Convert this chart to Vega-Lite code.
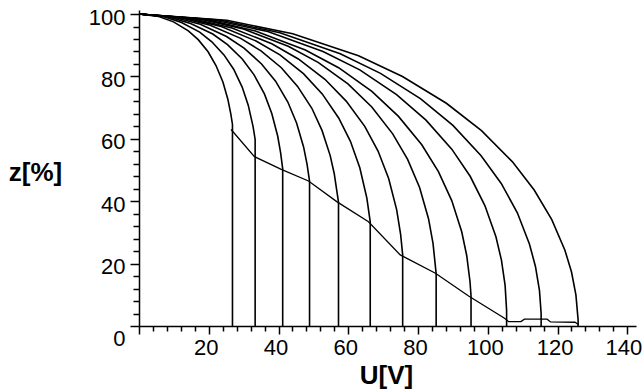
{
  "$schema": "https://vega.github.io/schema/vega-lite/v6.json",
  "width": 497,
  "height": 316,
  "autosize": {"type": "none"},
  "padding": {"left": 139, "top": 10, "right": 8, "bottom": 63},
  "background": "white",
  "config": {
    "view": {"stroke": null},
    "axis": {
      "grid": false,
      "domainColor": "black",
      "tickColor": "black",
      "labelColor": "black",
      "titleColor": "black",
      "labelFont": "Liberation Sans",
      "labelFontSize": 22,
      "titleFont": "Liberation Sans",
      "titleFontSize": 26,
      "titleFontWeight": "bold",
      "domainWidth": 1.5,
      "tickWidth": 1.5
    }
  },
  "datasets": {
    "curves": [
      {"c":1,"i":0,"U":0,"z":100},{"c":1,"i":1,"U":5.66,"z":99.2},{"c":1,"i":2,"U":9.9,"z":97.5},{"c":1,"i":3,"U":14.15,"z":94.6},{"c":1,"i":4,"U":16.98,"z":91.8},{"c":1,"i":5,"U":19.81,"z":87.9},{"c":1,"i":6,"U":22.07,"z":83.5},{"c":1,"i":7,"U":24.06,"z":78.2},{"c":1,"i":8,"U":25.47,"z":72.7},{"c":1,"i":9,"U":26.32,"z":68.0},{"c":1,"i":10,"U":26.8,"z":64.6},{"c":1,"i":11,"U":26.8,"z":0},
      {"c":2,"i":0,"U":0,"z":100},{"c":2,"i":1,"U":6.96,"z":99.2},{"c":2,"i":2,"U":12.18,"z":97.3},{"c":2,"i":3,"U":17.4,"z":94.2},{"c":2,"i":4,"U":20.88,"z":91.1},{"c":2,"i":5,"U":24.36,"z":86.9},{"c":2,"i":6,"U":27.14,"z":82.3},{"c":2,"i":7,"U":29.58,"z":76.6},{"c":2,"i":8,"U":31.32,"z":70.8},{"c":2,"i":9,"U":32.71,"z":63.9},{"c":2,"i":10,"U":33.3,"z":59.8},{"c":2,"i":11,"U":33.3,"z":0},
      {"c":3,"i":0,"U":0,"z":100},{"c":3,"i":1,"U":8.46,"z":99.1},{"c":3,"i":2,"U":14.8,"z":97.0},{"c":3,"i":3,"U":21.15,"z":93.6},{"c":3,"i":4,"U":25.38,"z":90.2},{"c":3,"i":5,"U":29.61,"z":85.6},{"c":3,"i":6,"U":32.99,"z":80.5},{"c":3,"i":7,"U":35.96,"z":74.4},{"c":3,"i":8,"U":38.07,"z":68.1},{"c":3,"i":9,"U":39.76,"z":60.9},{"c":3,"i":10,"U":40.61,"z":55.5},{"c":3,"i":11,"U":41.2,"z":50.4},{"c":3,"i":12,"U":41.2,"z":0},
      {"c":4,"i":0,"U":0,"z":100},{"c":4,"i":1,"U":10.04,"z":99.0},{"c":4,"i":2,"U":17.57,"z":96.7},{"c":4,"i":3,"U":25.1,"z":92.8},{"c":4,"i":4,"U":30.12,"z":89.1},{"c":4,"i":5,"U":35.14,"z":84.0},{"c":4,"i":6,"U":39.16,"z":78.5},{"c":4,"i":7,"U":42.67,"z":71.8},{"c":4,"i":8,"U":45.18,"z":65.1},{"c":4,"i":9,"U":47.19,"z":57.4},{"c":4,"i":10,"U":48.19,"z":51.8},{"c":4,"i":11,"U":48.9,"z":46.4},{"c":4,"i":12,"U":48.9,"z":0},
      {"c":5,"i":0,"U":0,"z":100},{"c":5,"i":1,"U":11.66,"z":98.9},{"c":5,"i":2,"U":20.41,"z":96.4},{"c":5,"i":3,"U":29.15,"z":92.2},{"c":5,"i":4,"U":34.98,"z":88.2},{"c":5,"i":5,"U":40.81,"z":82.8},{"c":5,"i":6,"U":45.47,"z":76.8},{"c":5,"i":7,"U":49.56,"z":69.8},{"c":5,"i":8,"U":52.47,"z":62.7},{"c":5,"i":9,"U":54.8,"z":54.7},{"c":5,"i":10,"U":55.97,"z":48.9},{"c":5,"i":11,"U":57.2,"z":39.7},{"c":5,"i":12,"U":57.2,"z":0},
      {"c":6,"i":0,"U":0,"z":100},{"c":6,"i":1,"U":13.47,"z":98.7},{"c":6,"i":2,"U":23.57,"z":96.0},{"c":6,"i":3,"U":33.68,"z":91.3},{"c":6,"i":4,"U":40.41,"z":86.9},{"c":6,"i":5,"U":47.15,"z":80.9},{"c":6,"i":6,"U":52.53,"z":74.4},{"c":6,"i":7,"U":57.25,"z":66.7},{"c":6,"i":8,"U":60.62,"z":59.2},{"c":6,"i":9,"U":63.31,"z":50.7},{"c":6,"i":10,"U":65.33,"z":41.0},{"c":6,"i":11,"U":66.3,"z":33.4},{"c":6,"i":12,"U":66.3,"z":0},
      {"c":7,"i":0,"U":0,"z":100},{"c":7,"i":1,"U":15.23,"z":98.6},{"c":7,"i":2,"U":26.65,"z":95.5},{"c":7,"i":3,"U":38.08,"z":90.5},{"c":7,"i":4,"U":45.69,"z":85.6},{"c":7,"i":5,"U":53.31,"z":79.1},{"c":7,"i":6,"U":59.4,"z":72.1},{"c":7,"i":7,"U":64.73,"z":64.0},{"c":7,"i":8,"U":68.54,"z":56.1},{"c":7,"i":9,"U":71.58,"z":47.3},{"c":7,"i":10,"U":73.87,"z":37.3},{"c":7,"i":11,"U":75.01,"z":29.4},{"c":7,"i":12,"U":75.6,"z":22.8},{"c":7,"i":13,"U":75.6,"z":0},
      {"c":8,"i":0,"U":0,"z":100},{"c":8,"i":1,"U":17.12,"z":98.5},{"c":8,"i":2,"U":29.95,"z":95.2},{"c":8,"i":3,"U":42.79,"z":89.7},{"c":8,"i":4,"U":51.35,"z":84.5},{"c":8,"i":5,"U":59.91,"z":77.6},{"c":8,"i":6,"U":66.75,"z":70.2},{"c":8,"i":7,"U":72.74,"z":61.6},{"c":8,"i":8,"U":77.02,"z":53.4},{"c":8,"i":9,"U":80.45,"z":44.4},{"c":8,"i":10,"U":83.01,"z":34.4},{"c":8,"i":11,"U":84.3,"z":26.5},{"c":8,"i":12,"U":85.2,"z":16.8},{"c":8,"i":13,"U":85.2,"z":0},
      {"c":9,"i":0,"U":0,"z":100},{"c":9,"i":1,"U":19.08,"z":98.3},{"c":9,"i":2,"U":33.39,"z":94.6},{"c":9,"i":3,"U":47.7,"z":88.5},{"c":9,"i":4,"U":57.23,"z":82.8},{"c":9,"i":5,"U":66.77,"z":75.2},{"c":9,"i":6,"U":74.4,"z":67.2},{"c":9,"i":7,"U":81.08,"z":58.1},{"c":9,"i":8,"U":85.85,"z":49.5},{"c":9,"i":9,"U":89.67,"z":40.2},{"c":9,"i":10,"U":92.53,"z":30.2},{"c":9,"i":11,"U":93.96,"z":22.6},{"c":9,"i":12,"U":94.91,"z":14.2},{"c":9,"i":13,"U":95.2,"z":9.6},{"c":9,"i":14,"U":95.2,"z":0},
      {"c":10,"i":0,"U":0,"z":100},{"c":10,"i":1,"U":21.1,"z":98.2},{"c":10,"i":2,"U":36.93,"z":94.4},{"c":10,"i":3,"U":52.75,"z":88.0},{"c":10,"i":4,"U":63.3,"z":82.1},{"c":10,"i":5,"U":73.85,"z":74.2},{"c":10,"i":6,"U":82.29,"z":66.0},{"c":10,"i":7,"U":89.68,"z":56.7},{"c":10,"i":8,"U":94.95,"z":48.0},{"c":10,"i":9,"U":99.17,"z":38.6},{"c":10,"i":10,"U":102.34,"z":28.6},{"c":10,"i":11,"U":103.92,"z":21.1},{"c":10,"i":12,"U":104.97,"z":13.0},{"c":10,"i":13,"U":105.4,"z":5},{"c":10,"i":14,"U":105.4,"z":0},
      {"c":11,"i":0,"U":0,"z":100},{"c":11,"i":1,"U":23.08,"z":98.1},{"c":11,"i":2,"U":40.39,"z":94.0},{"c":11,"i":3,"U":57.7,"z":87.3},{"c":11,"i":4,"U":69.24,"z":81.0},{"c":11,"i":5,"U":80.78,"z":72.8},{"c":11,"i":6,"U":90.01,"z":64.3},{"c":11,"i":7,"U":98.09,"z":54.6},{"c":11,"i":8,"U":103.86,"z":45.7},{"c":11,"i":9,"U":108.48,"z":36.3},{"c":11,"i":10,"U":111.94,"z":26.3},{"c":11,"i":11,"U":113.67,"z":19.1},{"c":11,"i":12,"U":114.82,"z":11.4},{"c":11,"i":13,"U":115.3,"z":4},{"c":11,"i":14,"U":115.3,"z":0},
      {"c":12,"i":0,"U":0,"z":100},{"c":12,"i":1,"U":25.18,"z":98.0},{"c":12,"i":2,"U":44.07,"z":93.7},{"c":12,"i":3,"U":62.95,"z":86.6},{"c":12,"i":4,"U":75.54,"z":80.0},{"c":12,"i":5,"U":88.13,"z":71.4},{"c":12,"i":6,"U":98.2,"z":62.6},{"c":12,"i":7,"U":107.02,"z":52.7},{"c":12,"i":8,"U":113.31,"z":43.6},{"c":12,"i":9,"U":118.35,"z":34.1},{"c":12,"i":10,"U":122.12,"z":24.3},{"c":12,"i":11,"U":124.01,"z":17.3},{"c":12,"i":12,"U":125.27,"z":10.0},{"c":12,"i":13,"U":125.9,"z":2},{"c":12,"i":14,"U":125.9,"z":0}
    ],
    "locus": [
      {"i":0,"U":26.4,"z":63.0},{"i":1,"U":33.1,"z":54.3},{"i":2,"U":40.8,"z":50.2},{"i":3,"U":48.6,"z":46.5},{"i":4,"U":56.8,"z":39.8},{"i":5,"U":65.8,"z":33.4},{"i":6,"U":74.9,"z":22.8},{"i":7,"U":85.0,"z":16.9},{"i":8,"U":94.5,"z":9.6},{"i":9,"U":104.8,"z":2.5},{"i":10,"U":106,"z":1.4},{"i":11,"U":109.5,"z":1.4},{"i":12,"U":110.5,"z":2.2},{"i":13,"U":117,"z":2.2},{"i":14,"U":118,"z":1.3},{"i":15,"U":125,"z":1.2},{"i":16,"U":126,"z":0.5}
    ]
  },
  "encoding": {
    "x": {
      "field": "U",
      "type": "quantitative",
      "scale": {"domain": [0, 142.5], "nice": false, "zero": false},
      "axis": {
        "values": [0,4,8,12,16,20,24,28,32,36,40,44,48,52,56,60,64,68,72,76,80,84,88,92,96,100,104,108,112,116,120,124,128,132,136,140],
        "labelExpr": "datum.value % 20 === 0 && datum.value > 0 ? datum.label : ''",
        "tickSize": {"condition": {"test": "datum.value % 20 === 0", "value": 8}, "value": 5},
        "labelOffset": {"condition": {"test": "datum.value === 140", "value": -4}, "value": -3},
        "labelPadding": 3,
        "labelFlush": false,
        "labelOverlap": false,
        "title": "U[V]",
        "titleX": 247,
        "titleY": 49,
        "titleAlign": "center",
        "titleBaseline": "middle"
      }
    },
    "y": {
      "field": "z",
      "type": "quantitative",
      "scale": {"domain": [0, 101.3], "nice": false, "zero": false},
      "axis": {
        "values": [0,4,8,12,16,20,24,28,32,36,40,44,48,52,56,60,64,68,72,76,80,84,88,92,96,100],
        "labelExpr": "datum.value % 20 === 0 ? datum.label : ''",
        "tickSize": {"condition": {"test": "datum.value % 20 === 0", "value": 9}, "value": 6},
        "labelOffset": {"condition": {"test": "datum.value === 0", "value": 12}, "value": 3},
        "labelPadding": 5,
        "labelFlush": false,
        "labelOverlap": false,
        "title": "z[%]",
        "titleAngle": 0,
        "titleX": -104,
        "titleY": 162,
        "titleAlign": "center",
        "titleBaseline": "middle"
      }
    }
  },
  "layer": [
    {
      "data": {"name": "curves"},
      "mark": {"type": "line", "color": "black", "strokeWidth": 1.6, "clip": false},
      "encoding": {
        "detail": {"field": "c", "type": "nominal"},
        "order": {"field": "i", "type": "quantitative"}
      }
    },
    {
      "data": {"name": "locus"},
      "mark": {"type": "line", "color": "black", "strokeWidth": 1.3, "clip": false},
      "encoding": {
        "order": {"field": "i", "type": "quantitative"}
      }
    }
  ]
}
